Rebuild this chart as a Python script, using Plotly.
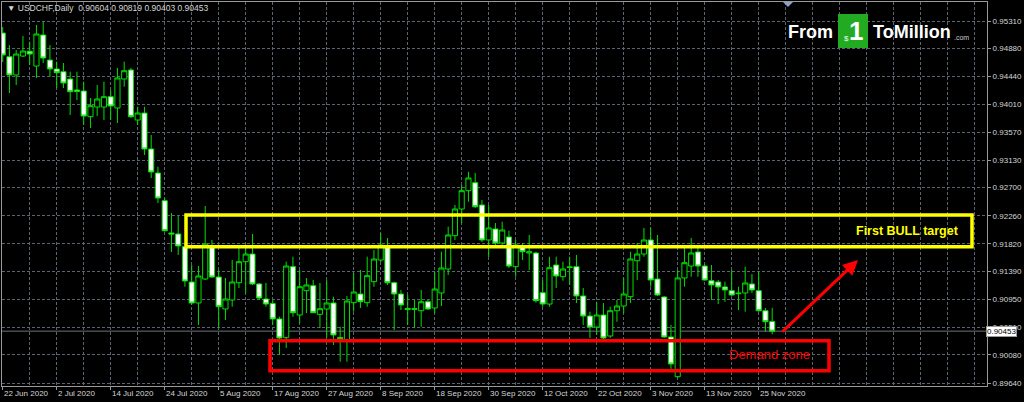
import plotly.graph_objects as go
import pandas as pd

symbol = "USDCHF,Daily"
dates = pd.bdate_range("2020-06-22", "2020-11-27")

opens = [0.95122, 0.94751, 0.94465, 0.94762, 0.94836, 0.94605, 0.95091, 0.94699, 0.94559, 0.94516,
         0.94402, 0.94230, 0.94214, 0.93812, 0.93963, 0.93963, 0.94125, 0.93948, 0.94402, 0.94543,
         0.93760, 0.93869, 0.93306, 0.92930, 0.92496, 0.91990, 0.91975, 0.91776, 0.91223, 0.90894,
         0.91270, 0.91771, 0.91301, 0.90800, 0.90941, 0.91212, 0.91541, 0.91661, 0.91192, 0.90957,
         0.90886, 0.90644, 0.90351, 0.91463, 0.90706, 0.91087, 0.91165, 0.90717, 0.90800, 0.90894,
         0.90354, 0.90315, 0.90899, 0.91035, 0.90899, 0.91228, 0.91567, 0.91787, 0.91212, 0.91035,
         0.90792, 0.90805, 0.90773, 0.90914, 0.90816, 0.91051, 0.91426, 0.91948, 0.92366, 0.92653,
         0.92778, 0.92429, 0.91881, 0.92053, 0.91834, 0.91928, 0.91463, 0.91771, 0.91677, 0.91677,
         0.91055, 0.90878, 0.91489, 0.91306, 0.91450, 0.91463, 0.91004, 0.90690, 0.90518, 0.90706,
         0.90377, 0.90773, 0.90847, 0.90993, 0.91556, 0.91661, 0.91881, 0.91270, 0.90988, 0.90362,
         0.89740, 0.91286, 0.91473, 0.91693, 0.91473, 0.91243, 0.91223, 0.91145, 0.91087, 0.91051,
         0.91051, 0.91192, 0.91087, 0.90773, 0.90604]
highs = [0.95216, 0.94934, 0.94856, 0.95075, 0.94986, 0.95248, 0.95299, 0.94934, 0.94673, 0.94652,
         0.94516, 0.94516, 0.94360, 0.94104, 0.94308, 0.94360, 0.94230, 0.94574, 0.94673, 0.94574,
         0.93968, 0.93968, 0.93525, 0.93029, 0.92538, 0.92303, 0.92256, 0.91834, 0.91489, 0.91473,
         0.92413, 0.91881, 0.91411, 0.91286, 0.91567, 0.91755, 0.91755, 0.91975, 0.91207, 0.91207,
         0.90941, 0.90680, 0.91541, 0.91619, 0.91411, 0.91286, 0.91254, 0.91207, 0.91254, 0.90993,
         0.90523, 0.91004, 0.91364, 0.91411, 0.91619, 0.91724, 0.91990, 0.91912, 0.91228, 0.91098,
         0.91019, 0.90941, 0.91098, 0.90941, 0.91384, 0.91697, 0.92089, 0.92429, 0.92742, 0.92950,
         0.92930, 0.92507, 0.92429, 0.92147, 0.92167, 0.92026, 0.91881, 0.91834, 0.91959, 0.91697,
         0.91254, 0.91619, 0.91619, 0.91541, 0.91619, 0.91646, 0.91129, 0.90758, 0.90914, 0.90894,
         0.90836, 0.90941, 0.91286, 0.91697, 0.91834, 0.92069, 0.92069, 0.91959, 0.91004, 0.90550,
         0.91411, 0.91755, 0.91912, 0.91755, 0.91505, 0.91489, 0.91254, 0.91228, 0.91411, 0.91149,
         0.91463, 0.91348, 0.91384, 0.90816, 0.90819]
lows = [0.94668, 0.94183, 0.94308, 0.94746, 0.94621, 0.94418, 0.94652, 0.94438, 0.94261, 0.94261,
        0.93838, 0.94073, 0.93682, 0.93635, 0.93822, 0.93760, 0.93760, 0.93713, 0.94281, 0.93791,
        0.93682, 0.93212, 0.92852, 0.92460, 0.92011, 0.91693, 0.91646, 0.91149, 0.90863, 0.90550,
        0.91254, 0.91286, 0.90503, 0.90628, 0.90836, 0.91129, 0.91051, 0.91176, 0.90941, 0.90836,
        0.90550, 0.90081, 0.90189, 0.90680, 0.90581, 0.90737, 0.90737, 0.90503, 0.90346, 0.90236,
        0.89975, 0.89975, 0.90758, 0.90816, 0.90836, 0.91149, 0.91536, 0.91176, 0.90471, 0.90784,
        0.90550, 0.90503, 0.90523, 0.90784, 0.90737, 0.90847, 0.91332, 0.91881, 0.92147, 0.92480,
        0.92382, 0.91849, 0.91614, 0.91776, 0.91771, 0.91442, 0.91306, 0.91567, 0.91411, 0.90899,
        0.90836, 0.90836, 0.91129, 0.91243, 0.91176, 0.90894, 0.90550, 0.90346, 0.90393, 0.90315,
        0.90346, 0.90601, 0.90737, 0.90894, 0.91254, 0.91619, 0.91149, 0.91004, 0.90346, 0.89861,
        0.89720, 0.91149, 0.91306, 0.91306, 0.91243, 0.90941, 0.90878, 0.90914, 0.90993, 0.90784,
        0.90758, 0.91051, 0.90758, 0.90445, 0.90403]
closes = [0.94778, 0.94465, 0.94793, 0.94840, 0.94793, 0.95107, 0.94731, 0.94559, 0.94501, 0.94339,
          0.94203, 0.94206, 0.93822, 0.93984, 0.94089, 0.94125, 0.93979, 0.94418, 0.94532, 0.93812,
          0.93869, 0.93306, 0.92946, 0.92538, 0.92026, 0.91975, 0.91787, 0.91239, 0.90894, 0.91317,
          0.91818, 0.91301, 0.90836, 0.90957, 0.91223, 0.91541, 0.91661, 0.91192, 0.90972, 0.90878,
          0.90644, 0.90346, 0.91473, 0.90742, 0.91149, 0.91176, 0.90742, 0.90805, 0.90894, 0.90393,
          0.90338, 0.90925, 0.91066, 0.90914, 0.91322, 0.91583, 0.91802, 0.91212, 0.91035, 0.90863,
          0.90808, 0.90795, 0.90914, 0.90800, 0.91113, 0.91442, 0.91959, 0.92366, 0.92653, 0.92852,
          0.92402, 0.91881, 0.92069, 0.91834, 0.92037, 0.91473, 0.91802, 0.91697, 0.91697, 0.90930,
          0.90878, 0.91447, 0.91317, 0.91426, 0.91458, 0.91004, 0.90690, 0.90518, 0.90706, 0.90346,
          0.90773, 0.90847, 0.91035, 0.91583, 0.91661, 0.91881, 0.91254, 0.91019, 0.90362, 0.89939,
          0.91286, 0.91525, 0.91677, 0.91473, 0.91254, 0.91176, 0.91145, 0.91098, 0.91019, 0.91041,
          0.91207, 0.91098, 0.90773, 0.90601, 0.90453]

price_ticks = [0.95310, 0.94880, 0.94440, 0.94010, 0.93570, 0.93130, 0.92700,
               0.92260, 0.91820, 0.91390, 0.90950, 0.90510, 0.90080, 0.89640]
last_price = 0.90453
bull_target_zone = (0.91776, 0.92272)
demand_zone = (0.89834, 0.90303)
bull_label = "First BULL target"
demand_label = "Demand zone"

# ---- layout geometry (pixels of the plot area) ----
PL, PR, PT, PB = 2, 987, 2, 386
BAR0_PX, BAR_STEP = 2.7, 6.75


def bx(xp):  # pixel -> bar index
    return (xp - BAR0_PX) / BAR_STEP


def px(xp):  # pixel -> paper x
    return (xp - PL) / (PR - PL)


def py(yp):  # pixel -> paper y
    return (PB - yp) / (PB - PT)


Y_TOP, Y_BOT = 0.95608, 0.89594
x_idx = list(range(len(dates)))
n_slots = 146

grid_vals = list(range(0, n_slots, 4))
label_idx = [i for i in range(0, len(dates), 8)]
label_text = [f"{dates[i].day} {dates[i].strftime('%b %Y')}" for i in label_idx]

FG = "#d6d6d6"
GRID = "#5a6571"
FONT = "Liberation Sans, Arial, sans-serif"

fig = go.Figure()
fig.add_trace(go.Candlestick(
    x=x_idx, open=opens, high=highs, low=lows, close=closes,
    increasing=dict(line=dict(color="#00e000", width=1), fillcolor="#000000"),
    decreasing=dict(line=dict(color="#00e000", width=1), fillcolor="#ffffff"),
    whiskerwidth=0, hoverinfo="skip", showlegend=False,
))

shapes = [
    # current price line
    dict(type="line", xref="paper", yref="y", x0=0, x1=1, y0=last_price, y1=last_price,
         line=dict(color="#6c747c", width=1), layer="below"),
    # bull target box
    dict(type="rect", xref="x", yref="y", x0=bx(186), x1=bx(972),
         y0=bull_target_zone[0], y1=bull_target_zone[1],
         line=dict(color="#ffff00", width=3.5), fillcolor="rgba(0,0,0,0)"),
    # demand zone box
    dict(type="rect", xref="x", yref="y", x0=bx(270), x1=bx(829),
         y0=demand_zone[0], y1=demand_zone[1],
         line=dict(color="#ff0000", width=3.5), fillcolor="rgba(0,0,0,0)"),
    # logo green square
    dict(type="rect", xref="paper", yref="paper", x0=px(838), x1=px(868), y0=py(48), y1=py(14),
         fillcolor="#22aa22", line=dict(width=0)),
    # chart shift marker
    dict(type="path", xref="paper", yref="paper",
         path=f"M {px(783)},{py(2)} L {px(793)},{py(2)} L {px(788)},{py(7)} Z",
         fillcolor="#8aa2c8", line=dict(width=0)),
]

annotations = [
    dict(xref="paper", yref="paper", x=px(5), y=py(8), xanchor="left", yanchor="middle",
         text=f"▼ {symbol}  {opens[-1]:.5f} {highs[-1]:.5f} {lows[-1]:.5f} {closes[-1]:.5f}",
         showarrow=False, font=dict(family=FONT, size=8.5, color=FG)),
    dict(xref="paper", yref="y", x=px(986), y=last_price, xanchor="left", yanchor="middle",
         text=f"{last_price:.5f}", showarrow=False, bgcolor="#ffffff", bordercolor="#9a9a9a",
         borderwidth=1, borderpad=0, font=dict(family=FONT, size=8, color="#000000")),
    dict(xref="x", yref="y", x=bx(907.5), y=sum(bull_target_zone) / 2, text=f"<b>{bull_label}</b>",
         showarrow=False, font=dict(family=FONT, size=12.5, color="#ffff00")),
    dict(xref="x", yref="y", x=bx(769), y=0.90080, text=demand_label,
         showarrow=False, font=dict(family=FONT, size=13, color="#ff0000")),
    dict(xref="x", yref="y", axref="x", ayref="y", x=bx(858), y=0.91567,
         ax=bx(781), ay=0.90424, text="", showarrow=True, arrowhead=2, arrowsize=1,
         arrowwidth=3, arrowcolor="#ff0000"),
    # logo text
    dict(xref="paper", yref="paper", x=px(835), y=py(32), xanchor="right", yanchor="middle",
         text="<b>From</b>", showarrow=False, font=dict(family=FONT, size=18, color="#ffffff")),
    dict(xref="paper", yref="paper", x=px(856), y=py(31), xanchor="center", yanchor="middle",
         text="<b>1</b>", showarrow=False, font=dict(family=FONT, size=26, color="#ffffff")),
    dict(xref="paper", yref="paper", x=px(846), y=py(38), xanchor="center", yanchor="middle",
         text="$", showarrow=False, font=dict(family=FONT, size=8, color="#e8ffe8")),
    dict(xref="paper", yref="paper", x=px(871), y=py(32), xanchor="left", yanchor="middle",
         text="<b>ToMillion</b>", showarrow=False, font=dict(family=FONT, size=18, color="#ffffff")),
    dict(xref="paper", yref="paper", x=px(952), y=py(37), xanchor="left", yanchor="middle",
         text=".com", showarrow=False, font=dict(family=FONT, size=7, color="#cccccc")),
]

# date labels along the time axis (left-aligned at their tick, as in the terminal)
for i, t in zip(label_idx, label_text):
    annotations.append(dict(xref="x", yref="paper", x=i, y=py(393.5), xanchor="left",
                            yanchor="middle", xshift=-1, text=t, showarrow=False,
                            font=dict(family=FONT, size=8, color=FG)))

fig.update_layout(
    width=1024, height=402,
    margin=dict(l=PL, r=1024 - PR, t=PT, b=402 - PB, pad=0, autoexpand=False),
    paper_bgcolor="#000000", plot_bgcolor="#000000",
    font=dict(family=FONT, size=8, color=FG),
    shapes=shapes, annotations=annotations,
    showlegend=False,
    boxgap=0.2, boxgroupgap=0.05,
    xaxis=dict(
        range=[bx(PL), bx(PR)], tickmode="array", tickvals=grid_vals, showticklabels=False,
        showgrid=True, gridcolor=GRID, griddash="3px,2px", gridwidth=1,
        ticks="", showline=True, linecolor="#9a9a9a", linewidth=1, mirror=True,
        minor=dict(tickmode="array", tickvals=label_idx, ticks="outside", ticklen=3,
                   tickcolor="#9a9a9a", showgrid=False),
        zeroline=False, rangeslider=dict(visible=False), fixedrange=True, automargin=False,
    ),
    yaxis=dict(
        side="right", range=[Y_BOT, Y_TOP], tickmode="array", tickvals=price_ticks,
        ticktext=[f"{v:.5f}" for v in price_ticks],
        showgrid=True, gridcolor=GRID, griddash="3px,2px", gridwidth=1,
        ticks="outside", ticklen=3, tickcolor="#9a9a9a",
        tickfont=dict(family=FONT, size=8, color=FG),
        showline=True, linecolor="#9a9a9a", linewidth=1, mirror=True,
        zeroline=False, fixedrange=True, automargin=False,
    ),
)

fig.write_html("out.html", config={"displayModeBar": False},
               post_script="document.body.style.margin='0';document.body.style.background='#000';")
